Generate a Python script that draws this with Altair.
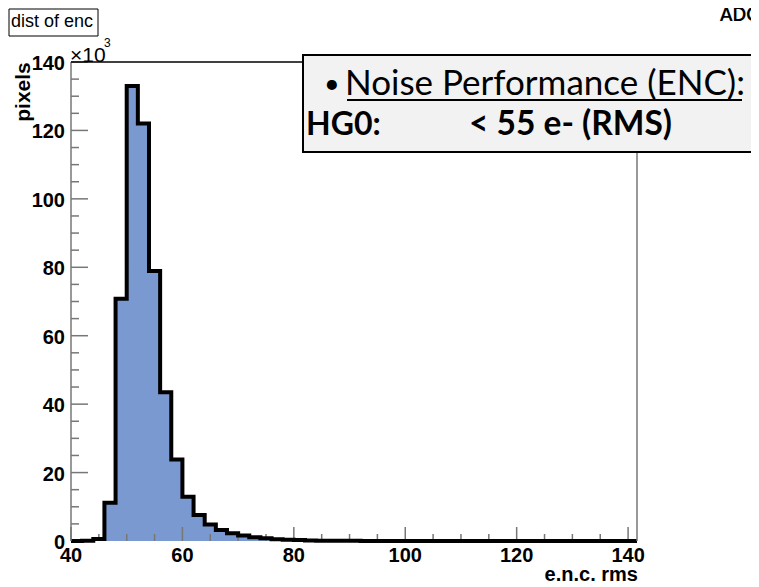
import altair as alt
import pandas as pd

# ---- data (counts in thousands of pixels, 2-unit bins starting at 40) ----
bin_left = [40, 42, 44, 46, 48, 50, 52, 54, 56, 58,
            60, 62, 64, 66, 68, 70, 72, 74, 76, 78,
            80, 82, 84, 86, 88, 90, 92, 94, 96, 98,
            100, 102, 104, 106, 108, 110, 112, 114, 116, 118,
            120, 122, 124, 126, 128, 130, 132, 134, 136, 138, 140]
counts_k = [0.0, 0.05, 0.6, 11.2, 70.8, 133.0, 122.0, 78.9, 43.5, 23.8,
            12.9, 7.6, 4.8, 3.2, 2.3, 1.6, 1.1, 0.8, 0.5, 0.4,
            0.3, 0.15, 0.1, 0.08, 0.05, 0.04, 0.03, 0.02, 0.02, 0.01,
            0.0, 0.0, 0.0, 0.0, 0.0, 0.0, 0.0, 0.0, 0.0, 0.0,
            0.0, 0.0, 0.0, 0.0, 0.0, 0.0, 0.0, 0.0, 0.0, 0.0, 0.0]
x_max = 141.6

x_major = [40, 60, 80, 100, 120, 140]
x_minor = [45, 50, 55, 65, 70, 75, 85, 90, 95, 105, 110, 115, 125, 130, 135]
y_major = [0, 20, 40, 60, 80, 100, 120, 140]
y_minor = [5, 10, 15, 25, 30, 35, 45, 50, 55, 65, 70, 75, 85, 90, 95,
           105, 110, 115, 125, 130, 135]

title_text = "dist of enc"
x_title = "e.n.c. rms"
y_title = "pixels"
exp_text = ["\u00d710", "3"]
note_line1 = "Noise Performance (ENC):"
note_bullet = "\u2022"
note_line2 = ["HG0:", "< 55 e- (RMS)"]
corner_text = "ADC"

W, H = 566, 479
FILL = "#7a99d1"
AXC = "#777777"
LBL = "Liberation Sans"
NOTE = "Lato"

step_df = pd.DataFrame({"enc": bin_left + [x_max], "pix": counts_k + [counts_k[-1]]})

xscale = alt.Scale(domain=[40, x_max], nice=False, zero=False)
yscale = alt.Scale(domain=[0, 140], nice=False, zero=True)

area = alt.Chart(step_df).mark_area(interpolate="step-after", color=FILL).encode(
    x=alt.X("enc:Q", scale=xscale, axis=None),
    y=alt.Y("pix:Q", scale=yscale, axis=None),
)
outline = alt.Chart(step_df).mark_line(
    interpolate="step-after", color="black", strokeWidth=4, strokeJoin="miter"
).encode(
    x=alt.X("enc:Q", scale=xscale, axis=None),
    y=alt.Y("pix:Q", scale=yscale, axis=None),
)


def xticks(vals, length):
    return alt.Chart(pd.DataFrame({"v": vals})).mark_rule(color=AXC, strokeWidth=1.5).encode(
        x=alt.X("v:Q", scale=xscale, axis=None),
        y=alt.value(H), y2=alt.value(H - length))


def yticks(vals, length):
    return alt.Chart(pd.DataFrame({"v": vals})).mark_rule(color=AXC, strokeWidth=1.5).encode(
        y=alt.Y("v:Q", scale=yscale, axis=None),
        x=alt.value(0), x2=alt.value(length))


xlabels = alt.Chart(pd.DataFrame({"v": x_major})).mark_text(
    font=LBL, fontSize=20, fontWeight="bold", align="center", baseline="alphabetic", color="black"
).encode(x=alt.X("v:Q", scale=xscale, axis=None), y=alt.value(H + 21), text=alt.Text("v:Q"))

ylabels = alt.Chart(pd.DataFrame({"v": y_major})).mark_text(
    font=LBL, fontSize=20, fontWeight="bold", align="right", baseline="alphabetic",
    color="black", dy=8
).encode(y=alt.Y("v:Q", scale=yscale, axis=None), x=alt.value(-6), text=alt.Text("v:Q"))

deco = pd.DataFrame({"k": [0]})


def rule(x, x2, y, y2, color, sw):
    return alt.Chart(deco).mark_rule(color=color, strokeWidth=sw).encode(
        x=alt.value(x), x2=alt.value(x2), y=alt.value(y), y2=alt.value(y2))


def rect(x, x2, y, y2, fill, stroke, sw):
    return alt.Chart(deco).mark_rect(fill=fill, stroke=stroke, strokeWidth=sw).encode(
        x=alt.value(x), x2=alt.value(x2), y=alt.value(y), y2=alt.value(y2))


def txt(text, x, y, font, size, weight="normal", align="left", baseline="alphabetic", angle=0):
    kw = dict(font=font, fontSize=size, fontWeight=weight, align=align,
              baseline=baseline, color="black")
    if angle:
        kw["angle"] = angle
    return alt.Chart(deco).mark_text(**kw).encode(
        x=alt.value(x), y=alt.value(y), text=alt.value(text))


layers = [
    area,
    xticks(x_major, 14), xticks(x_minor, 7),
    yticks(y_major, 17), yticks(y_minor, 8),
    outline,
    rule(0, 0, 0, H, AXC, 1.5),
    rule(W, W, 0, H, AXC, 1.5),
    rule(0, W, 0, 0, "black", 1.5),
    xlabels, ylabels,
    # title box
    rect(-62, 27, -53, -26, "white", "black", 1),
    txt(title_text, -60, -35, LBL, 18),
    txt(exp_text[0], -1, 0, LBL, 21),
    txt(exp_text[1], 33, -15, LBL, 12),
    txt(y_title, -47, 30, LBL, 21, "bold", "center", "middle", 270),
    txt(x_title, 567, 519, LBL, 20, "bold", "right"),
    # annotation box
    rect(232, 720, -7, 90, "#f2f2f2", "black", 2),
    txt(note_bullet, 253, 31, NOTE, 27),
    txt(note_line1, 274, 33, NOTE, 35),
    rule(276, 671, 38, 38, "black", 2),
    txt(note_line2[0], 235, 73, NOTE, 32, "bold"),
    txt(note_line2[1], 398, 73, NOTE, 33.5, "bold"),
    txt(corner_text, 649, -41, NOTE, 18, "bold"),
]

chart = alt.layer(*layers).properties(
    width=W, height=H,
    autosize=alt.AutoSizeParams(type="none"),
    padding={"left": 63, "top": 54, "right": 114, "bottom": 43},
).configure_view(strokeWidth=0)

chart.save("out.html", embed_options={"renderer": "svg", "actions": False})
